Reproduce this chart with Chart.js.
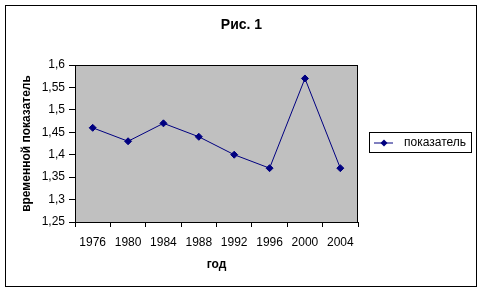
<!DOCTYPE html>
<html><head><meta charset="utf-8">
<script src="https://cdn.jsdelivr.net/npm/chart.js@4"></script>
<style>html,body{margin:0;padding:0;background:#fff}#wrap{width:483px;height:290px}</style>
</head><body><div id="wrap"><canvas id="c" width="483" height="290"></canvas></div>
<script>
const chartTitle = 'Рис. 1';
const xAxisTitle = 'год';
const yAxisTitle = 'временной показатель';
const years = ['1976','1980','1984','1988','1992','1996','2000','2004'];
const seriesName = 'показатель';
const seriesValues = [1.46, 1.43, 1.47, 1.44, 1.40, 1.37, 1.57, 1.37];
const yMin = 1.25, yMax = 1.6, yStep = 0.05;

const FONT = '"Liberation Sans", Arial, sans-serif';
const NAVY = '#000080';

const decor = {
  id: 'decor',
  beforeDraw(chart) {
    const ctx = chart.ctx, a = chart.chartArea;
    ctx.save();
    ctx.fillStyle = '#fff';
    ctx.fillRect(0, 0, chart.width, chart.height);
    ctx.strokeStyle = '#000'; ctx.lineWidth = 1;
    ctx.strokeRect(5.5, 5.5, 471, 281);
    ctx.fillStyle = '#C0C0C0';
    ctx.fillRect(a.left, a.top, a.right - a.left, a.bottom - a.top);
    // title
    ctx.fillStyle = '#000';
    ctx.font = 'bold 14px ' + FONT;
    ctx.textAlign = 'center'; ctx.textBaseline = 'middle';
    ctx.fillText(chartTitle, 241.5, 25);
    ctx.restore();
  },
  afterDraw(chart) {
    const ctx = chart.ctx, a = chart.chartArea;
    ctx.save();
    ctx.strokeStyle = '#000'; ctx.lineWidth = 1;
    ctx.strokeRect(Math.round(a.left) + 0.5, Math.round(a.top) + 0.5, Math.round(a.right - a.left) - 1, Math.round(a.bottom - a.top));
    // legend
    const ds = chart.data.datasets[0];
    ctx.strokeRect(369.5, 132.5, 102, 20);
    ctx.strokeStyle = ds.borderColor; ctx.lineWidth = 1;
    ctx.beginPath(); ctx.moveTo(374, 143); ctx.lineTo(393, 143); ctx.stroke();
    ctx.fillStyle = ds.pointBackgroundColor;
    ctx.beginPath();
    ctx.moveTo(384, 139.5); ctx.lineTo(387.5, 143); ctx.lineTo(384, 146.5); ctx.lineTo(380.5, 143); ctx.closePath(); ctx.fill();
    ctx.fillStyle = '#000';
    ctx.font = '12px ' + FONT;
    ctx.textAlign = 'left'; ctx.textBaseline = 'middle';
    ctx.fillText(ds.label, 404, 143);
    ctx.restore();
  }
};

new Chart(document.getElementById('c'), {
  type: 'line',
  data: {
    labels: years,
    datasets: [{
      label: seriesName,
      data: seriesValues,
      borderColor: NAVY,
      backgroundColor: NAVY,
      pointBackgroundColor: NAVY,
      pointBorderColor: NAVY,
      borderWidth: 1,
      pointStyle: 'rectRot',
      pointRadius: 3.5,
      tension: 0
    }]
  },
  options: {
    responsive: false,
    animation: false,
    events: [],
    layout: { padding: { left: 5, right: 125, top: 65, bottom: 4 } },
    plugins: { legend: { display: false }, title: { display: false }, tooltip: { enabled: false } },
    scales: {
      x: {
        offset: true,
        grid: { offset: true, drawOnChartArea: false, drawTicks: true, tickLength: 5, color: '#000' },
        border: { color: '#000', width: 1 },
        ticks: { color: '#000', font: { family: FONT, size: 12 }, padding: 8, maxRotation: 0, autoSkip: false },
        title: { display: true, text: xAxisTitle, color: '#000', font: { family: FONT, size: 12, weight: 'bold' }, padding: { top: 0, bottom: 14 } },
        afterFit(s) { s.height = 64; }
      },
      y: {
        min: yMin, max: yMax,
        grid: { drawOnChartArea: false, drawTicks: true, tickLength: 6, color: '#000' },
        border: { color: '#000', width: 1 },
        ticks: {
          stepSize: yStep, color: '#000', font: { family: FONT, size: 12 }, padding: 4,
          callback: v => String(parseFloat(v.toFixed(2))).replace('.', ',')
        },
        title: { display: true, text: yAxisTitle, color: '#000', font: { family: FONT, size: 12, weight: 'bold' }, padding: { top: 14, bottom: 0 } },
        afterFit(s) { s.width = 70; }
      }
    }
  },
  plugins: [decor]
});
</script>
</body></html>
